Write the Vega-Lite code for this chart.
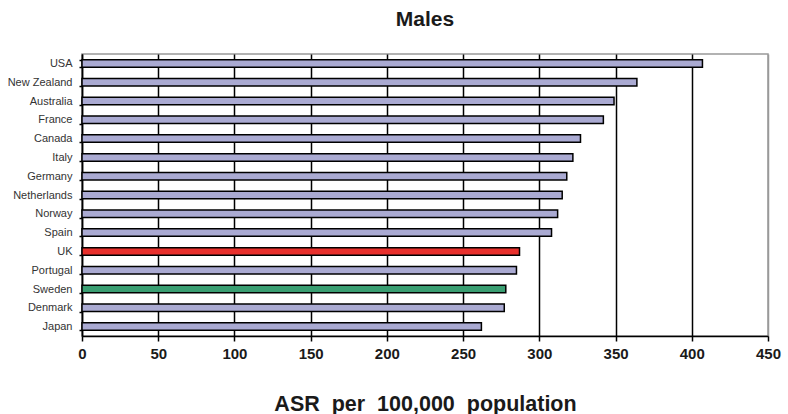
{
  "$schema": "https://vega.github.io/schema/vega-lite/v6.json",
  "autosize": "none",
  "width": 686,
  "height": 282,
  "padding": {"left": 82, "top": 54, "right": 20, "bottom": 78},
  "background": "white",
  "title": {
    "text": "Males",
    "font": "Liberation Sans",
    "fontSize": 21,
    "fontWeight": "bold",
    "color": "#1a1a1a",
    "anchor": "middle",
    "offset": 18
  },
  "data": {
    "values": [
      {"country": "USA", "asr": 407, "group": "Other"},
      {"country": "New Zealand", "asr": 364, "group": "Other"},
      {"country": "Australia", "asr": 349, "group": "Other"},
      {"country": "France", "asr": 342, "group": "Other"},
      {"country": "Canada", "asr": 327, "group": "Other"},
      {"country": "Italy", "asr": 322, "group": "Other"},
      {"country": "Germany", "asr": 318, "group": "Other"},
      {"country": "Netherlands", "asr": 315, "group": "Other"},
      {"country": "Norway", "asr": 312, "group": "Other"},
      {"country": "Spain", "asr": 308, "group": "Other"},
      {"country": "UK", "asr": 287, "group": "UK"},
      {"country": "Portugal", "asr": 285, "group": "Other"},
      {"country": "Sweden", "asr": 278, "group": "Sweden"},
      {"country": "Denmark", "asr": 277, "group": "Other"},
      {"country": "Japan", "asr": 262, "group": "Other"}
    ]
  },
  "mark": {"type": "bar", "stroke": "black", "strokeWidth": 1.5},
  "encoding": {
    "y": {
      "field": "country",
      "type": "nominal",
      "sort": null,
      "scale": {"paddingInner": 0.6, "paddingOuter": 0.3},
      "axis": {
        "title": null,
        "domainColor": "black",
        "domainWidth": 1.5,
        "tickBand": "extent",
        "tickColor": "black",
        "tickWidth": 1.5,
        "tickSize": 3,
        "labelPadding": 7,
        "labelFont": "Liberation Sans",
        "labelFontSize": 11,
        "labelColor": "#333333"
      }
    },
    "x": {
      "field": "asr",
      "type": "quantitative",
      "scale": {"domain": [0, 450], "nice": false},
      "axis": {
        "values": [0, 50, 100, 150, 200, 250, 300, 350, 400, 450],
        "title": "ASR\u00a0 per\u00a0 100,000\u00a0 population",
        "titleFont": "Liberation Sans",
        "titleFontSize": 21.5,
        "titleFontWeight": "bold",
        "titleColor": "#1a1a1a",
        "titlePadding": 32,
        "grid": true,
        "gridColor": {"condition": {"test": "datum.value === 450", "value": "#999999"}, "value": "black"},
        "gridWidth": 1.5,
        "domainColor": "black",
        "domainWidth": 1.5,
        "tickColor": "black",
        "tickWidth": 1.5,
        "tickSize": 5,
        "labelPadding": 5,
        "labelFont": "Liberation Sans",
        "labelFontSize": 15,
        "labelFontWeight": "bold",
        "labelColor": "#1a1a1a",
        "labelFlush": false
      }
    },
    "color": {
      "field": "group",
      "type": "nominal",
      "scale": {"domain": ["Other", "UK", "Sweden"], "range": ["#aaaad2", "#e8302c", "#3a9e72"]},
      "legend": null
    }
  },
  "config": {
    "view": {"stroke": "#999999", "strokeWidth": 1.5}
  }
}
